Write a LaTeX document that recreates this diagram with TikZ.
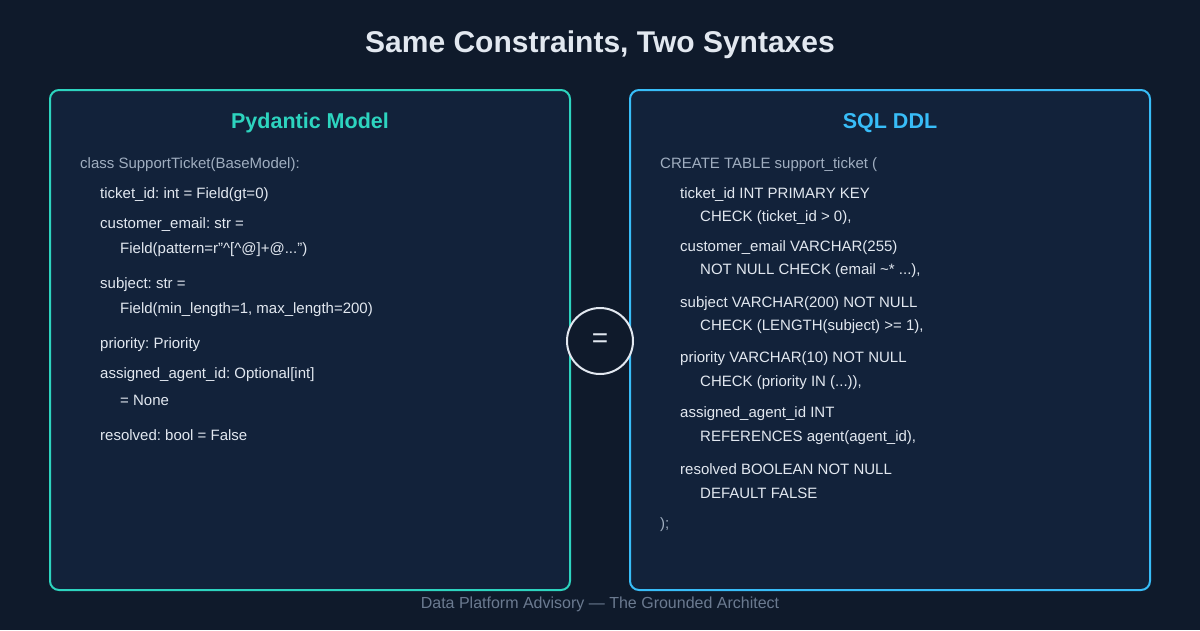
\documentclass[tikz,border=0pt]{standalone}
\usepackage{fontspec}
\setmainfont{Liberation Sans}
\frenchspacing
\definecolor{bgnavy}{HTML}{0F1A2B}
\definecolor{panelfill}{HTML}{12223A}
\definecolor{tealline}{HTML}{2DD4BF}
\definecolor{skyline}{HTML}{38BDF8}
\definecolor{codetext}{HTML}{E2E8F0}
\definecolor{dimtext}{HTML}{A0AEC0}
\definecolor{foottext}{HTML}{6B7A90}
\begin{document}
\begin{tikzpicture}[x=1pt,y=-1pt]
\tikzstyle{panel} = [
  rounded corners=9pt,
  line width=2pt,
  fill = panelfill
]
\tikzstyle{code} = [
  anchor=west,
  inner sep=0pt,
  text = codetext,
  font=\fontsize{15}{17}\selectfont
]
\tikzstyle{head} = [
  font=\fontsize{21.5}{25}\selectfont\bfseries
]

\fill [bgnavy] (0,0) rectangle (1200,630);
\useasboundingbox (0,0) rectangle (1200,630);

\node [text=codetext, font=\fontsize{30}{34}\selectfont\bfseries] (title) at (600,45) {Same Constraints, Two Syntaxes};

\draw [panel, draw=tealline] (50,90) rectangle (570,590);
\draw [panel, draw=skyline] (630,90) rectangle (1150,590);

\node [head, text=tealline] (pyhead) at (310,123) {Pydantic Model};
\node [head, text=skyline] (sqlhead) at (890,123) {SQL DDL};

% pydantic side
\node [code, text=dimtext] (p0) at (80,165) {class SupportTicket(BaseModel):};
\node [code] (p1) at (100,195) {ticket\_id: int = Field(gt=0)};
\node [code] (p2) at (100,225) {customer\_email: str =};
\node [code] (p3) at (120,250) {Field(pattern=r"\^{}[\^{}@]+@...")};
\node [code] (p4) at (100,285) {subject: str =};
\node [code] (p5) at (120,310) {Field(min\_length=1, max\_length=200)};
\node [code] (p6) at (100,345) {priority: Priority};
\node [code] (p7) at (100,375) {assigned\_agent\_id: Optional[int]};
\node [code] (p8) at (120,400) {= None};
\node [code] (p9) at (100,435) {resolved: bool = False};

% sql side
\node [code, text=dimtext] (s0) at (660,165) {CREATE TABLE support\_ticket (};
\node [code] (s1) at (680,195) {ticket\_id INT PRIMARY KEY};
\node [code] (s2) at (700,218) {CHECK (ticket\_id > 0),};
\node [code] (s3) at (680,248) {customer\_email VARCHAR(255)};
\node [code] (s4) at (700,271) {NOT NULL CHECK (email \textasciitilde* ...),};
\node [code] (s5) at (680,304) {subject VARCHAR(200) NOT NULL};
\node [code] (s6) at (700,327) {CHECK (LENGTH(subject) >= 1),};
\node [code] (s7) at (680,359) {priority VARCHAR(10) NOT NULL};
\node [code] (s8) at (700,383) {CHECK (priority IN (...)),};
\node [code] (s9) at (680,414) {assigned\_agent\_id INT};
\node [code] (s10) at (700,438) {REFERENCES agent(agent\_id),};
\node [code] (s11) at (680,469) {resolved BOOLEAN NOT NULL};
\node [code] (s12) at (700,493) {DEFAULT FALSE};
\node [code, text=dimtext] (s13) at (660,525) {);};

\node [circle, draw=codetext, line width=2pt, fill=bgnavy, minimum size=66pt, inner sep=0pt, text=codetext, font=\fontsize{28}{30}\selectfont] (eq) at (600,341) {=};

\node [text=foottext, font=\fontsize{16}{18}\selectfont] (foot) at (600,604) {Data Platform Advisory — The Grounded Architect};
\end{tikzpicture}
\end{document}
